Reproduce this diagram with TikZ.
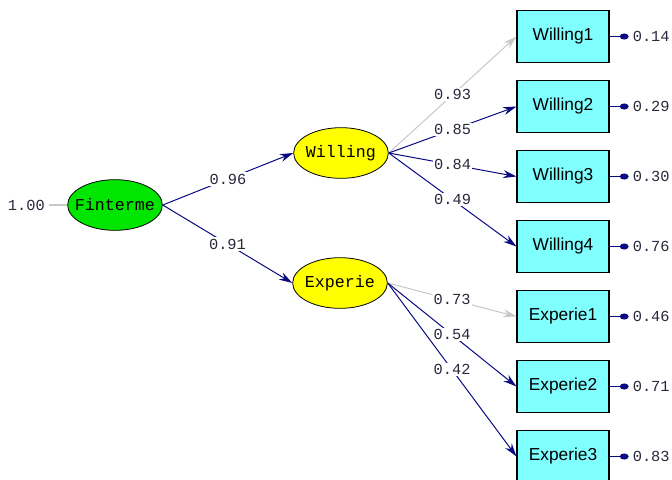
\documentclass[tikz,border=0pt]{standalone}
\usepackage{fontspec}
\setmainfont{Liberation Sans}
\newfontfamily\monofnt{Liberation Mono}
\usetikzlibrary{arrows.meta,shapes.geometric,calc}
\definecolor{pathnavy}{RGB}{10,10,130}
\definecolor{pathgray}{RGB}{200,200,200}
\definecolor{boxcyan}{RGB}{128,255,255}
\definecolor{latgreen}{RGB}{0,230,0}
\definecolor{latyellow}{RGB}{255,255,0}
\definecolor{numcol}{RGB}{40,40,60}
\tikzset{
  latent/.style={ellipse, draw=black, line width=0.6pt, minimum width=71pt, minimum height=38pt, inner sep=0pt, font=\monofnt\fontsize{12.5}{12.5}\selectfont},
  obsbox/.style={rectangle, draw=black, line width=0.8pt, fill=boxcyan, minimum width=69pt, minimum height=39pt, inner sep=0pt, font=\fontsize{13}{13}\selectfont},
  coef/.style={fill=white, inner sep=1pt, text=numcol, font=\monofnt\fontsize{11.5}{11.5}\selectfont},
  errnum/.style={anchor=west, inner sep=0pt, text=numcol, font=\monofnt\fontsize{11.5}{11.5}\selectfont},
  pathline/.style={draw=pathnavy, line width=0.75pt, -{Stealth[length=10pt,width=6pt]}},
  fixline/.style={draw=pathgray, line width=0.75pt, -{Stealth[length=10pt,width=6pt]}},
  errline/.style={draw=pathnavy, line width=1.2pt, -{Circle[length=6.5pt,width=4.5pt]}},
}
\begin{document}
\begin{tikzpicture}[x=0.75pt,y=-0.75pt]
\useasboundingbox (0,0) rectangle (672,479);
% latent variables
\node[latent, fill=latgreen] (f) at (115,205) {\makebox[0pt]{Finterme}};
\node[latent, fill=latyellow] (w) at (341,153) {\makebox[0pt]{Willing}};
\node[latent, fill=latyellow] (e) at (340,283) {\makebox[0pt]{Experie}};
% observed
\node[obsbox] (w1) at (563,36.5) {Willing1};
\node[obsbox] (w2) at (563,106.5) {Willing2};
\node[obsbox] (w3) at (563,176.5) {Willing3};
\node[obsbox] (w4) at (563,246.5) {Willing4};
\node[obsbox] (e1) at (563,316.5) {Experie1};
\node[obsbox] (e2) at (563,386.5) {Experie2};
\node[obsbox] (e3) at (563,456.5) {Experie3};
% variance of Finterme
\node[errnum, anchor=east] (fv) at (45,205) {1.00};
\coordinate (fvend) at ($(fv.east)+(4,0)$);
\draw[draw=pathgray, line width=0.8pt] (fvend) -- (f.west);
% structural paths
\draw[pathline] (f.east) -- node[coef] {0.96} (w.west);
\draw[pathline] (f.east) -- node[coef] {0.91} (e.west);
% measurement paths
\draw[fixline] (w.east) -- node[coef] {0.93} (w1.west);
\draw[pathline] (w.east) -- node[coef] {0.85} (w2.west);
\draw[pathline] (w.east) -- node[coef] {0.84} (w3.west);
\draw[pathline] (w.east) -- node[coef] {0.49} (w4.west);
\draw[fixline] (e.east) -- node[coef] {0.73} (e1.west);
\draw[pathline] (e.east) -- node[coef] {0.54} (e2.west);
\draw[pathline] (e.east) -- node[coef] {0.42} (e3.west);
% error variances
\foreach \n/\v in {w1/0.14, w2/0.29, w3/0.30, w4/0.76, e1/0.46, e2/0.71, e3/0.83}{
  \coordinate (\n err) at ($(\n.east)+(19,0)$);
  \draw[errline] (\n.east) -- (\n err);
  \node[errnum] (\n num) at ($(\n err)+(4,0)$) {\v};
}
\end{tikzpicture}
\end{document}
